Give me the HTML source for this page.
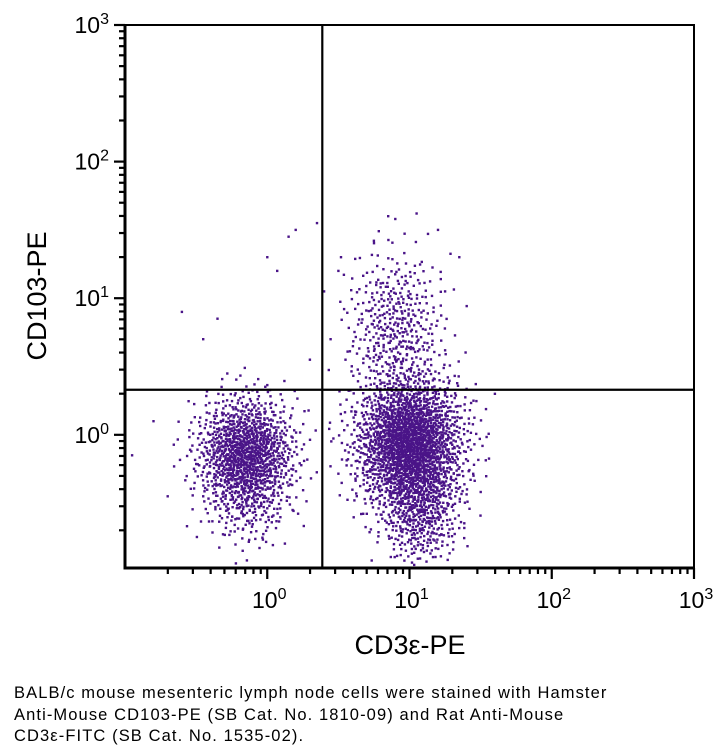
<!DOCTYPE html>
<html><head><meta charset="utf-8">
<style>
body{margin:0;background:#fff;width:721px;height:756px;overflow:hidden;font-family:"Liberation Sans","DejaVu Sans",sans-serif;}
#cap{position:absolute;left:14px;top:683px;font-size:16.5px;letter-spacing:1.1px;line-height:21.5px;color:#000;}
</style></head>
<body>
<svg id="chart" width="721" height="680" style="position:absolute;left:0;top:0" xmlns="http://www.w3.org/2000/svg">
<g id="dots"></g>
<g id="axes"></g>
</svg>
<div id="cap">BALB/c mouse mesenteric lymph node cells were stained with Hamster<br>Anti-Mouse CD103-PE (SB Cat. No. 1810-09) and Rat Anti-Mouse<br>CD3ε-FITC (SB Cat. No. 1535-02).</div>
<script>
// cluster populations (log10 units)
const clusterNames = ["cd3neg-cd103neg","cd3pos-cd103neg","cd3pos-cd103pos","cd3pos-low-tail","cd3neg-low-tail"];
const clusterX = [-0.15, 1.0, 0.9, 1.08, -0.14];
const clusterY = [-0.14, -0.06, 0.8, -0.55, -0.50];
const clusterSdX = [0.17, 0.19, 0.17, 0.14, 0.15];
const clusterSdY = [0.21, 0.25, 0.27, 0.22, 0.18];
const clusterCount = [1200, 2100, 400, 450, 160];
// sparse outlier events [log x, log y]
const outlierX = [0.15,0.0,-0.35,0.2,0.35,0.5,1.2,1.35,0.4,-0.6,-0.8,0.07,-0.45,1.05,1.25,0.75,0.9,1.45,1.6,-0.95,-0.7,0.55,0.3,0.85];
const outlierY = [1.45,1.3,0.85,1.5,1.55,1.2,1.5,1.3,1.05,0.9,0.1,1.2,0.7,1.62,1.05,1.42,1.58,0.25,0.3,-0.15,-0.45,0.55,0.55,1.6];
const xTicks = [0,1,2,3];
const yTicks = [0,1,2,3];
const xMin=-1, xMax=3, yMin=-0.975, yMax=3;
const L=125,R=694,T=25,B=568;
const xPx=l=>L+(l-xMin)/(xMax-xMin)*(R-L);
const yPx=l=>B-(l-yMin)/(yMax-yMin)*(B-T);
const NS="http://www.w3.org/2000/svg";
function mk(tag,attrs,parent){const e=document.createElementNS(NS,tag);for(const k in attrs)e.setAttribute(k,attrs[k]);parent.appendChild(e);return e;}
function halton(i,b){let f=1,r=0;while(i>0){f/=b;r+=f*(i%b);i=Math.floor(i/b);}return r;}
const dots=document.getElementById('dots');
const col="#4a1488";
let idx=1;
function dot(lx,ly){
  const px=xPx(lx),py=yPx(ly);
  if(px<L+2||px>R-2||py<T+2||py>B-3)return;
  const r=mk('rect',{x:(px-1.2).toFixed(1),y:(py-1.2).toFixed(1),width:2.4,height:2.4,fill:col},dots);
  
  
}
for(let c=0;c<clusterCount.length;c++){
  for(let k=0;k<clusterCount[c];k++){
    const u1=Math.max(halton(idx,2),1e-4),u2=halton(idx,3);idx++;
    let rr=Math.sqrt(-2*Math.log(u1));if(rr>3)rr=3;
    const th=2*Math.PI*u2;
    dot(clusterX[c]+clusterSdX[c]*rr*Math.cos(th),clusterY[c]+clusterSdY[c]*rr*Math.sin(th));
  }
}
for(let i=0;i<outlierX.length;i++)dot(outlierX[i],outlierY[i]);
const ax=document.getElementById('axes');
let q=mk('line',{x1:xPx(0.387),x2:xPx(0.387),y1:T,y2:B,stroke:'#000','stroke-width':2.2},ax);

q=mk('line',{x1:L,x2:R,y1:yPx(0.33),y2:yPx(0.33),stroke:'#000','stroke-width':2.2},ax);

let f=mk('rect',{x:L,y:T,width:R-L,height:B-T,fill:'none',stroke:'#000','stroke-width':2},ax);

let a=mk('line',{x1:L,x2:L,y1:T-1,y2:B+1.5,stroke:'#000','stroke-width':3},ax);

a=mk('line',{x1:L-1.5,x2:R+1,y1:B,y2:B,stroke:'#000','stroke-width':3},ax);

for(let d=-1;d<3;d++){for(let m=1;m<=9;m++){const l=d+Math.log10(m);
  if(l>xMin&&l<=xMax){const major=m===1;const t=mk('line',{x1:xPx(l),x2:xPx(l),y1:B,y2:B+(major?11:6),stroke:'#000','stroke-width':2.2},ax);
    }
  if(l>yMin&&l<=yMax){const major=m===1;const t=mk('line',{x1:L,x2:L-(major?11:6),y1:yPx(l),y2:yPx(l),stroke:'#000','stroke-width':2.2},ax);
    }
}}
for(const d of [3]){const t=mk('line',{x1:xPx(d),x2:xPx(d),y1:B,y2:B+11,stroke:'#000','stroke-width':2.2},ax);
 const t2=mk('line',{x1:L,x2:L-11,y1:yPx(d),y2:yPx(d),stroke:'#000','stroke-width':2.2},ax);}
function lab(x,y,exp,anchor,name){
  const t=mk('text',{x:x,y:y,'font-size':23,'text-anchor':anchor,fill:'#000'},ax);
  t.textContent='10';const s=mk('tspan',{dy:-9,'font-size':16},t);s.textContent=exp;
  
}
xTicks.forEach(d=>lab(xPx(d)+2,608,String(d),'middle','x-tick-label'));
yTicks.forEach(d=>lab(L-16,yPx(d)+8,String(d),'end','y-tick-label'));
let tt=mk('text',{x:410,y:654,'font-size':27,'text-anchor':'middle',fill:'#000'},ax);tt.textContent='CD3ε-PE';

tt=mk('text',{x:0,y:0,'font-size':27,'text-anchor':'middle',fill:'#000',transform:'translate(46,296) rotate(-90)'},ax);tt.textContent='CD103-PE';

</script>
</body></html>
